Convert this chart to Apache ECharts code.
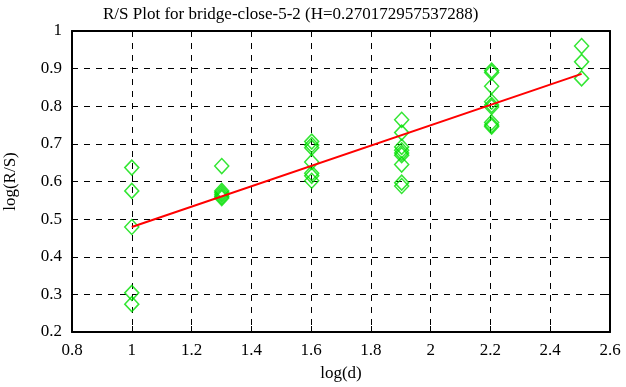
<!DOCTYPE html>
<html><head><meta charset="utf-8">
<script src="https://cdn.jsdelivr.net/npm/echarts@6/dist/echarts.min.js"></script>
<style>html,body{margin:0;padding:0;background:#fff}#c{width:626px;height:387px}</style>
</head><body><div id="c"></div>
<script>
var titleText = 'R/S Plot for bridge-close-5-2 (H=0.270172957537288)';
var xName = 'log(d)';
var yName = 'log(R/S)';
var logD = [1.0, 1.0, 1.0, 1.0, 1.0,
  1.301, 1.301, 1.301, 1.301, 1.301, 1.301,
  1.602, 1.602, 1.602, 1.602, 1.602, 1.602, 1.602,
  1.903, 1.903, 1.903, 1.903, 1.903, 1.903, 1.903, 1.903, 1.903,
  2.204, 2.204, 2.204, 2.204, 2.204, 2.204, 2.204, 2.204, 2.204,
  2.505, 2.505, 2.505];
var logRS = [0.637, 0.575, 0.479, 0.304, 0.274,
  0.641, 0.575, 0.570, 0.565, 0.560, 0.556,
  0.706, 0.697, 0.690, 0.652, 0.622, 0.615, 0.602,
  0.764, 0.730, 0.692, 0.683, 0.676, 0.670, 0.645, 0.597, 0.588,
  0.895, 0.890, 0.853, 0.812, 0.803, 0.798, 0.757, 0.750, 0.746,
  0.960, 0.918, 0.874];
var fitX = [1.0, 2.505];
var fitY = [0.479, 0.886];
var xTicks = [0.8, 2.6, 0.2];
var yTicks = [0.2, 1.0, 0.1];

var pts = logD.map(function(x, i){ return [x, logRS[i]]; });
var fit = fitX.map(function(x, i){ return [x, fitY[i]]; });
var font = 'Liberation Serif';
var chart = echarts.init(document.getElementById('c'));
function fmt(v){ return String(Math.round(v*10)/10); }
var axisCommon = {
  axisLine: {show: true, onZero: false, lineStyle: {color: '#000', width: 2}},
  axisTick: {show: true, inside: true, length: 6, lineStyle: {color: '#000', width: 1}},
};
chart.setOption({
  animation: false,
  title: {text: titleText, left: 98, top: 1,
    textStyle: {fontFamily: font, fontWeight: 'normal', fontSize: 17, color: '#000'}},
  grid: {left: 72, right: 16, top: 31, bottom: 55, containLabel: false, outerBoundsMode: 'none'},
  xAxis: [
    Object.assign({type: 'value', min: xTicks[0], max: xTicks[1], interval: xTicks[2],
      name: xName, nameLocation: 'middle', nameGap: 33,
      nameTextStyle: {fontFamily: font, fontSize: 17, color: '#000'},
      axisLabel: {fontFamily: font, fontSize: 17, color: '#000', margin: 10, formatter: fmt},
      splitLine: {show: true, lineStyle: {color: '#000', type: [6, 6], width: 1}}}, axisCommon),
    Object.assign({type: 'value', position: 'top', min: xTicks[0], max: xTicks[1], interval: xTicks[2],
      axisLabel: {show: false}, splitLine: {show: false}}, axisCommon)
  ],
  yAxis: [
    Object.assign({type: 'value', min: yTicks[0], max: yTicks[1], interval: yTicks[2],
      name: yName, nameLocation: 'middle', nameGap: 53, nameRotate: 90,
      nameTextStyle: {fontFamily: font, fontSize: 17, color: '#000'},
      axisLabel: {fontFamily: font, fontSize: 17, color: '#000', margin: 10, formatter: fmt},
      splitLine: {show: true, lineStyle: {color: '#000', type: [6, 6], width: 1}}}, axisCommon),
    Object.assign({type: 'value', position: 'right', min: yTicks[0], max: yTicks[1], interval: yTicks[2],
      axisLabel: {show: false}, splitLine: {show: false}}, axisCommon)
  ],
  series: [
    {type: 'scatter', data: pts, symbol: 'diamond', symbolSize: [14, 15],
      itemStyle: {color: 'transparent', borderColor: '#00e000', borderWidth: 1.5}, z: 3},
    {type: 'line', data: fit, symbol: 'none', lineStyle: {color: '#ff0000', width: 2}, z: 4}
  ]
});
</script></body></html>
